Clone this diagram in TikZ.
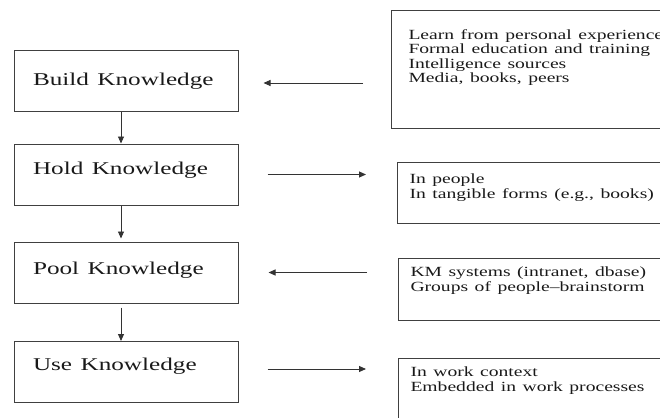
\documentclass[tikz,border=0pt]{standalone}
\usepackage{fontspec}
\setmainfont{Liberation Serif}
\usepackage{graphicx}
\usetikzlibrary{arrows.meta}

% the original print is stretched sideways
\newcommand\wide[1]{\scalebox{1.4}[1]{#1}}

\tikzset{
  stage/.style={draw=black!75, line width=1pt, minimum width=224pt, minimum height=61pt,
    inner xsep=19pt, inner ysep=0pt, text width=186pt, align=left,
    font=\fontsize{18}{20}\selectfont, text=black!90},
  note/.style={draw=black!75, line width=1pt, anchor=north west, text width=275pt, align=left,
    inner xsep=12pt, inner ysep=0pt, font=\fontsize{14}{14.5}\selectfont, text=black!90},
  flow/.style={draw=black!80, line width=0.9pt, -{Triangle[length=7pt,width=6pt]}}
}

\begin{document}
\begin{tikzpicture}[x=1pt,y=-1pt]
  \useasboundingbox (0,0) rectangle (660,417);
  \clip (0,0) rectangle (660,417);
  % stages
  \node[stage, minimum height=60pt] (build) at (126,81) {\wide{Build Knowledge}};
  \node[stage, text depth=12pt] (hold) at (126,174.5) {\wide{Hold Knowledge}};
  \node[stage, text depth=8pt] (pool) at (126,272.5) {\wide{Pool Knowledge}};
  \node[stage, text depth=16pt] (use) at (126,372) {\wide{Use Knowledge}};
  % notes on the right
  \node[note, inner xsep=17pt, text height=29pt, text depth=89pt] (src) at (391,10)
    {\wide{\begin{tabular}[t]{@{}l@{}}Learn from personal experience\\ Formal education and training\\
      Intelligence sources\\ Media, books, peers\end{tabular}}};
  \node[note, text height=21pt, text depth=40pt] (forms) at (397,162)
    {\wide{\begin{tabular}[t]{@{}l@{}}In people\\ In tangible forms (e.g., books)\end{tabular}}};
  \node[note, text height=18pt, text depth=44pt] (systems) at (398,258)
    {\wide{\begin{tabular}[t]{@{}l@{}}KM systems (intranet, dbase)\\ Groups of people--brainstorm\end{tabular}}};
  \node[note, text height=18pt, text depth=60pt] (context) at (398,358)
    {\wide{\begin{tabular}[t]{@{}l@{}}In work context\\ Embedded in work processes\end{tabular}}};
  % down the chain
  \draw[flow] ([xshift=-5pt]build.south) -- ([xshift=-5pt]hold.north);
  \draw[flow, shorten >=3pt] ([xshift=-5pt]hold.south) -- ([xshift=-5pt]pool.north);
  \draw[flow, shorten <=4pt] ([xshift=-5pt]pool.south) -- ([xshift=-5pt]use.north);
  % across
  \draw[flow, shorten <=28pt, shorten >=25pt] ([yshift=-2pt]build.east -| src.west) -- ([yshift=-2pt]build.east);
  \draw[flow, shorten <=29pt, shorten >=31pt] (hold.east) -- (hold.east -| forms.west);
  \draw[flow, shorten <=31pt, shorten >=30pt] (pool.east -| systems.west) -- (pool.east);
  \draw[flow, shorten <=29pt, shorten >=32pt] ([yshift=3pt]use.east) -- ([yshift=3pt]use.east -| context.west);
\end{tikzpicture}
\end{document}
